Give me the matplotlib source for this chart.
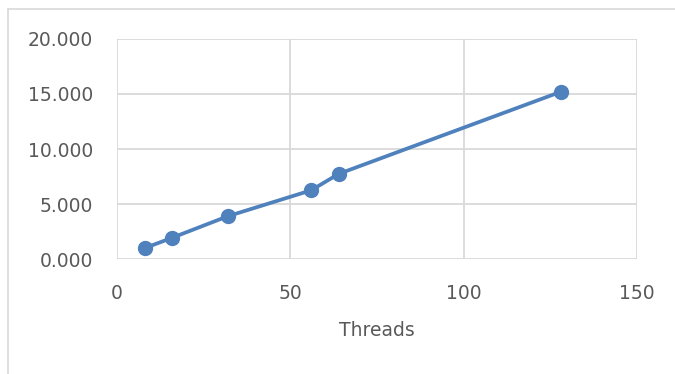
import matplotlib
matplotlib.use("Agg")
import matplotlib.pyplot as plt
from matplotlib.lines import Line2D
from matplotlib.ticker import FormatStrFormatter

# data
threads = [8, 16, 32, 56, 64, 128]
speedup = [1.0, 1.95, 3.9, 6.25, 7.75, 15.2]
xticks = [0, 50, 100, 150]
yticks = [0, 5, 10, 15, 20]

blue = '#4f81bd'
grid = '#d9d9d9'
text = '#595959'

fig = plt.figure(figsize=(6.75, 3.74), dpi=100)
ax = fig.add_axes([0.173, 0.307, 0.771, 0.589])

ax.plot(threads, speedup, color=blue, linewidth=2.7, marker='o',
        markersize=10, markerfacecolor=blue, markeredgecolor=blue, zorder=3)

ax.set_xlim(0, 150)
ax.set_ylim(0, 20)
ax.set_xticks(xticks)
ax.set_yticks(yticks)
ax.yaxis.set_major_formatter(FormatStrFormatter('%.3f'))
ax.grid(True, color=grid, linewidth=1.3)
ax.set_axisbelow(True)
for s in ax.spines.values():
    s.set_visible(False)
ax.tick_params(length=0, labelsize=13.5, colors=text)
ax.tick_params(axis='y', pad=17)
ax.tick_params(axis='x', pad=18)
ax.set_xlabel('Threads', fontsize=13.5, color=text, labelpad=13)

# chart area border (cropped)
fig.add_artist(Line2D([0.0115, 0.0115], [0.0, 0.975], color=grid, linewidth=1.2,
                      transform=fig.transFigure))
fig.add_artist(Line2D([0.0115, 1.0], [0.975, 0.975], color=grid, linewidth=1.2,
                      transform=fig.transFigure))

fig.savefig('out.png', dpi=100)
